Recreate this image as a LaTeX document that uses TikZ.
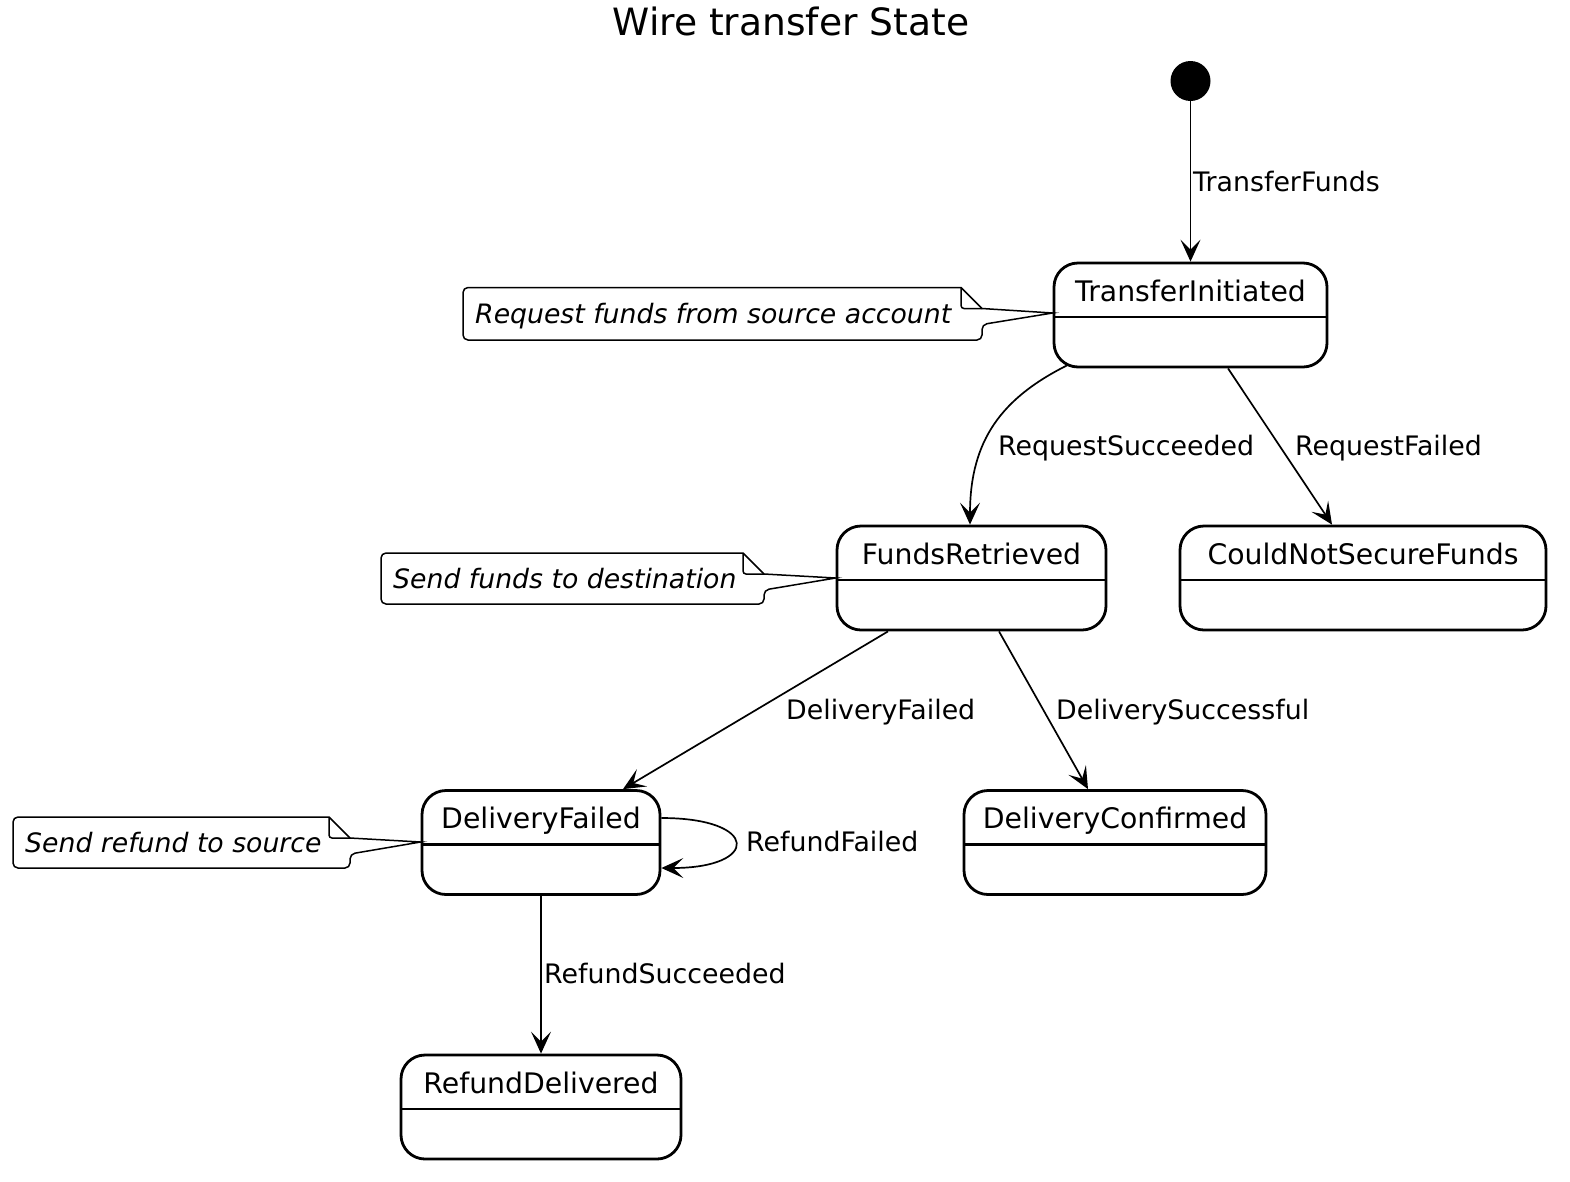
\documentclass[tikz,border=0pt]{standalone}
\usepackage{fontspec}
\setmainfont{DejaVu Sans}
\usetikzlibrary{arrows.meta,calc}
\newcommand\mkstate[5]{%
  \node[statebox,minimum width=#4pt] (#1) at (#2,#3+52) {};
  \draw[line width=2.8pt] (#2-#4/2,#3+54) -- (#2+#4/2,#3+54);
  \node[statename] (#1-name) at (#2,#3+38) {#5};
}
% name, left, top, right, bottom, tip coordinate, text
\newcommand\mknote[7]{%
  \coordinate (#1-tip) at (#6);
  \draw[notestyle] (#4-21,#3) [rounded corners=5pt]-- (#2,#3) -- (#2,#5) -- (#4,#5) -- (#4,#3+37) [sharp corners]-- (#1-tip) -- (#4,#3+21) -- cycle;
  \draw[notestyle] (#4-21,#3) [rounded corners=3pt]-- (#4-21,#3+21) -- (#4,#3+21);
  \node[notetext] (#1) at (#2+12,#3/2+#5/2+10) {#7};
}
\begin{document}
\begin{tikzpicture}[x=1pt,y=-1pt,
  statebox/.style={draw,line width=2.8pt,rounded corners=24pt,minimum height=104pt,inner sep=0pt},
  statename/.style={anchor=base,inner sep=0pt,font=\fontsize{28.3}{33}\selectfont},
  edge/.style={line width=1.7pt,-{Stealth[length=22pt,width=20pt,inset=10pt]}},
  elabel/.style={anchor=base west,inner sep=0pt,font=\fontsize{26.8}{31}\selectfont},
  notestyle/.style={line width=1.5pt},
  notetext/.style={anchor=base west,inner sep=0pt,font=\fontsize{26.7}{31}\selectfont\itshape},
  initstate/.style={circle,fill=black,minimum size=40pt,inner sep=0pt}]
\useasboundingbox (0,0) rectangle (1570,1181);

\node[anchor=base,inner sep=0pt,font=\fontsize{37.6}{44}\selectfont] (title) at (791,35) {Wire transfer State};

\node[initstate] (init) at (1190.5,81) {};

\mkstate{ti}{1190.5}{263}{273}{TransferInitiated}
\mkstate{fr}{971.5}{526}{269}{FundsRetrieved}
\mkstate{cn}{1363}{526}{366}{CouldNotSecureFunds}
\mkstate{df}{541}{790.5}{238}{DeliveryFailed}
\mkstate{dc}{1115}{790.5}{302}{DeliveryConfirmed}
\mkstate{rd}{541}{1055}{280}{RefundDelivered}

\mknote{n1}{463}{287.5}{982}{340}{ti.west |- 0,313}{Request funds from source account}
\mknote{n2}{381}{553}{764}{604}{fr.west |- 0,578}{Send funds to destination}
\mknote{n3}{13}{817}{350}{868}{df.west |- 0,842}{Send refund to source}

\draw[edge] (init) -- (ti.north -| init);
\node[elabel] (l1) at (1193,191.5) {TransferFunds};

\draw[edge] ($(ti.south -| 1067,0)+(0,-3)$) .. controls (1002,398) and (970,440) .. (fr.north -| 970,0);
\node[elabel] (l2) at (998,455.5) {RequestSucceeded};

\draw[edge] (ti.south -| 1228,0) -- (cn.north -| 1332,0);
\node[elabel] (l3) at (1295,455.5) {RequestFailed};

\draw[edge] (fr.south -| 888,0) -- (df.north -| 623,0);
\node[elabel] (l4) at (786,719.5) {DeliveryFailed};

\draw[edge] (fr.south -| 999,0) -- (dc.north -| 1088,0);
\node[elabel] (l5) at (1056,719.5) {DeliverySuccessful};

\draw[edge] (df.east |- 0,818) .. controls (760,818) and (760,868) .. (df.east |- 0,868);
\node[elabel] (l6) at (746,851.5) {RefundFailed};

\draw[edge] (df.south) -- (rd.north);
\node[elabel] (l7) at (544,983.5) {RefundSucceeded};
\end{tikzpicture}
\end{document}
